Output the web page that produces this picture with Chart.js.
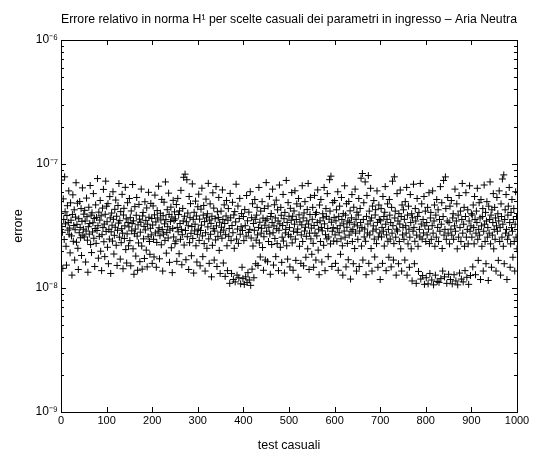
<!DOCTYPE html>
<html lang="it">
<head>
    <meta charset="UTF-8">
    <title>Errore relativo - Aria Neutra</title>
    <style>
        body {
            margin: 0;
            background-color: white;
        }
    </style>
</head>
<body>
    <canvas id="errChart" width="533" height="457"></canvas>

    <script src="https://cdn.jsdelivr.net/npm/chart.js@4.4.1/dist/chart.umd.min.js"></script>
    <script>
        // errore relativo per ogni test, in unita' di 1e-8
        const errore = [
            7.42, 3.13, 2.81, 1.44, 5.23, 3.57, 2.46, 7.88, 4.12, 3.29, 2.17, 1.53, 3.84, 4.61, 2.93, 3.38, 6.07, 2.71, 3.04, 1.92, 4.86, 3.52, 2.63, 1.27, 3.91, 5.64, 2.38, 3.19, 4.27, 1.68, 2.95, 3.73, 7.06, 2.34, 3.26, 4.83, 2.09, 1.41, 3.62, 2.79, 4.98, 3.08, 2.54, 4.37, 1.83, 3.45, 6.42, 2.67, 2.98, 3.94,
            2.58, 4.23, 3.47, 1.62, 2.88, 5.31, 3.76, 2.43, 1.34, 3.12, 4.48, 2.72, 3.31, 6.71, 2.24, 3.87, 1.93, 4.04, 2.83, 3.36, 5.77, 2.52, 3.64, 1.49, 3.02, 4.68, 2.29, 3.71, 2.91, 7.63, 3.18, 1.74, 4.09, 2.61, 3.53, 5.08, 1.98, 3.82, 1.38, 2.69, 4.41, 3.07, 6.24, 2.36, 3.28, 1.79, 3.93, 7.27, 2.86, 4.57,
            3.42, 2.13, 4.79, 1.57, 2.97, 2.48, 5.46, 3.68, 1.31, 2.84, 4.02, 3.21, 2.39, 5.97, 3.58, 1.88, 2.66, 4.31, 3.09, 5.12, 2.21, 3.79, 1.52, 2.92, 4.63, 3.34, 6.96, 2.57, 3.49, 1.71, 4.13, 2.32, 3.01, 5.69, 2.77, 1.43, 3.88, 4.39, 2.51, 3.17, 6.48, 2.04, 3.61, 1.59, 2.73, 4.87, 3.37, 2.19, 3.11, 5.27,
            2.41, 3.69, 1.51, 4.18, 2.89, 3.32, 6.83, 2.07, 3.48, 1.29, 2.74, 4.53, 2.99, 1.81, 3.86, 5.37, 2.62, 1.39, 3.23, 2.31, 4.72, 3.59, 1.63, 2.82, 3.39, 6.28, 2.18, 1.42, 3.81, 4.07, 2.49, 3.14, 1.73, 4.96, 2.94, 3.51, 2.02, 4.42, 1.48, 3.27, 2.59, 5.91, 3.72, 2.37, 1.87, 3.03, 4.81, 2.68, 3.63, 1.58,
            3.22, 4.59, 2.47, 1.78, 3.89, 5.61, 2.78, 3.41, 1.47, 2.33, 4.21, 3.67, 2.87, 6.62, 3.06, 1.72, 2.64, 4.01, 3.54, 2.23, 5.18, 2.96, 1.37, 3.83, 2.72, 4.92, 3.29, 2.42, 7.17, 3.56, 1.91, 2.81, 4.28, 3.12, 2.53, 5.82, 3.92, 1.61, 2.93, 3.43, 4.49, 2.11, 3.74, 1.33, 3.02, 5.09, 2.58, 3.51, 4.11, 2.28,
            3.61, 2.39, 4.71, 1.64, 3.08, 5.28, 2.84, 3.91, 1.89, 4.19, 3.31, 2.47, 6.13, 2.97, 1.54, 2.69, 4.38, 3.47, 7.81, 2.22, 3.79, 8.28, 2.91, 1.69, 3.42, 7.46, 2.59, 4.02, 3.18, 1.41, 5.47, 2.32, 3.69, 4.79, 2.76, 1.82, 3.13, 6.91, 2.51, 3.58, 1.32, 4.08, 2.89, 3.27, 5.02, 2.19, 3.81, 1.62, 2.71, 4.52,
            2.98, 5.71, 2.42, 3.59, 1.51, 2.91, 4.32, 3.21, 6.38, 2.63, 1.79, 3.87, 4.63, 2.28, 3.43, 1.37, 2.79, 5.21, 3.68, 2.09, 3.97, 3.11, 6.98, 2.49, 1.58, 3.53, 4.77, 2.71, 3.32, 1.23, 3.79, 2.21, 5.86, 3.01, 4.41, 1.68, 2.88, 3.62, 2.44, 6.57, 3.17, 1.49, 4.12, 2.61, 3.71, 5.37, 2.01, 3.39, 1.31, 2.82,
            4.17, 3.09, 2.52, 6.18, 3.57, 1.59, 2.93, 4.68, 3.31, 1.24, 2.69, 3.81, 5.08, 2.19, 1.38, 3.52, 4.37, 2.61, 3.02, 1.09, 5.79, 3.68, 2.41, 1.31, 3.19, 4.91, 2.79, 1.17, 3.88, 2.09, 4.13, 1.12, 3.41, 6.87, 2.48, 1.27, 2.99, 4.58, 2.29, 1.21, 3.63, 5.28, 2.71, 1.08, 3.12, 3.98, 1.47, 2.91, 1.19, 3.77,
            2.41, 1.07, 4.29, 3.18, 1.23, 2.62, 5.57, 1.11, 3.48, 1.33, 2.81, 4.09, 1.16, 2.97, 5.98, 1.05, 2.53, 3.69, 1.42, 4.78, 2.18, 3.31, 1.21, 2.92, 5.17, 3.58, 1.57, 2.43, 3.87, 4.47, 2.68, 1.52, 3.08, 6.47, 2.31, 3.39, 1.78, 4.17, 2.77, 3.03, 4.97, 2.12, 3.66, 1.39, 2.59, 4.38, 3.21, 1.68, 3.49, 7.08,
            2.87, 3.61, 1.63, 4.58, 2.37, 3.09, 5.48, 2.73, 1.29, 3.77, 3.99, 2.24, 3.37, 6.27, 2.79, 1.53, 3.17, 4.69, 2.51, 3.67, 1.79, 5.11, 3.01, 2.28, 4.27, 3.47, 1.38, 2.92, 6.77, 3.29, 2.13, 4.47, 3.86, 1.61, 2.57, 3.19, 5.68, 2.39, 3.62, 1.32, 4.07, 2.78, 2.97, 7.37, 2.19, 3.38, 1.71, 4.88, 2.69, 3.79,
            3.07, 1.48, 4.39, 2.59, 3.52, 5.88, 2.31, 3.79, 1.39, 2.87, 4.18, 3.27, 6.08, 2.48, 1.67, 3.57, 4.77, 2.81, 2.99, 1.22, 5.27, 3.89, 2.17, 3.41, 4.57, 1.58, 2.68, 3.23, 6.68, 2.37, 3.67, 1.51, 4.03, 2.88, 4.97, 3.09, 1.77, 2.61, 3.48, 4.29, 2.07, 6.97, 3.28, 1.41, 2.77, 3.91, 5.38, 2.49, 3.04, 1.87,
            3.58, 4.47, 2.29, 1.47, 3.19, 5.58, 2.77, 3.92, 1.68, 4.07, 2.63, 3.38, 6.18, 2.02, 2.98, 1.28, 4.67, 3.48, 2.37, 5.17, 3.08, 1.62, 2.89, 3.97, 3.68, 2.21, 6.47, 3.29, 1.38, 2.69, 4.37, 3.78, 2.49, 5.77, 3.02, 1.79, 2.58, 3.59, 7.47, 4.17, 2.27, 7.98, 3.39, 1.49, 2.87, 4.88, 3.07, 2.39, 3.71, 5.07,
            2.68, 1.58, 3.48, 4.27, 2.38, 3.01, 5.97, 1.39, 3.78, 2.79, 4.57, 3.18, 1.87, 2.49, 5.37, 3.57, 2.19, 1.27, 3.98, 3.29, 2.88, 6.67, 2.57, 3.87, 1.48, 4.78, 3.09, 2.29, 3.47, 1.69, 4.98, 2.67, 3.38, 4.19, 1.18, 2.87, 3.68, 5.67, 2.37, 2.97, 1.57, 4.48, 3.27, 2.08, 6.27, 2.77, 3.58, 1.37, 4.08, 3.17,
            2.47, 3.88, 5.27, 1.49, 2.88, 4.38, 3.37, 7.68, 2.18, 3.07, 8.38, 1.68, 3.57, 4.87, 2.58, 2.99, 7.17, 2.38, 1.28, 3.78, 5.58, 2.78, 3.28, 8.07, 1.58, 4.17, 2.68, 3.48, 6.37, 2.08, 3.67, 1.37, 4.58, 2.88, 3.17, 5.07, 2.48, 1.78, 3.88, 4.28, 2.98, 2.28, 6.07, 3.38, 1.47, 2.58, 4.67, 3.57, 2.78, 1.17,
            3.48, 4.37, 2.58, 3.08, 1.58, 5.47, 2.87, 3.77, 2.18, 4.08, 6.57, 3.27, 1.38, 2.68, 3.58, 4.77, 2.38, 2.97, 1.77, 5.17, 3.87, 2.48, 3.37, 1.48, 4.47, 2.77, 7.27, 3.18, 1.68, 2.28, 7.88, 3.67, 4.17, 2.57, 1.27, 2.98, 5.77, 2.88, 3.47, 1.57, 3.98, 2.37, 3.28, 6.17, 2.07, 3.77, 1.37, 4.67, 2.68, 3.08,
            4.27, 2.47, 3.58, 1.68, 4.97, 3.18, 2.77, 6.47, 1.27, 3.87, 2.27, 4.57, 2.98, 1.47, 2.57, 5.67, 3.37, 2.07, 3.97, 1.14, 3.68, 2.87, 6.87, 3.08, 1.57, 2.38, 4.37, 3.47, 1.09, 2.67, 5.27, 3.78, 2.17, 1.36, 4.07, 2.97, 2.58, 6.97, 1.18, 3.28, 4.77, 2.48, 1.26, 3.57, 2.78, 5.47, 1.07, 3.17, 4.17, 2.37,
            1.21, 3.37, 2.68, 4.47, 1.08, 2.98, 5.87, 2.28, 1.31, 3.67, 4.07, 2.47, 1.16, 3.18, 6.07, 2.77, 1.06, 3.47, 4.67, 2.17, 1.27, 3.87, 2.57, 5.17, 1.13, 3.08, 4.27, 2.37, 1.11, 3.57, 2.87, 6.57, 1.19, 3.27, 4.87, 2.08, 1.37, 3.77, 7.37, 2.67, 1.23, 2.97, 7.87, 4.37, 2.47, 1.09, 3.47, 5.37, 2.77, 1.29,
            3.37, 2.27, 4.57, 1.17, 2.98, 5.07, 2.67, 1.08, 3.67, 3.97, 2.47, 1.28, 3.17, 6.27, 2.87, 1.14, 3.47, 4.77, 2.07, 1.06, 3.87, 2.57, 5.57, 1.32, 3.07, 4.17, 2.37, 1.18, 3.57, 6.97, 2.77, 1.12, 3.27, 4.47, 2.17, 1.38, 3.77, 5.87, 2.57, 1.22, 2.97, 4.27, 2.27, 1.07, 3.47, 6.67, 2.87, 1.26, 3.17, 3.97,
            2.57, 3.87, 1.48, 4.67, 3.07, 2.27, 5.47, 3.57, 1.28, 2.77, 4.17, 3.37, 6.37, 2.47, 1.67, 2.97, 4.87, 2.67, 3.67, 1.17, 5.17, 3.17, 2.17, 3.77, 4.37, 1.37, 2.87, 6.77, 3.27, 2.37, 4.07, 1.57, 3.47, 4.97, 2.57, 3.07, 1.15, 4.57, 2.77, 3.57, 7.17, 2.27, 3.87, 1.47, 4.27, 2.67, 3.37, 5.77, 2.07, 2.97,
            4.47, 2.47, 3.67, 1.37, 3.17, 5.37, 2.87, 3.97, 1.67, 3.47, 6.07, 2.37, 3.07, 1.27, 4.77, 3.77, 2.57, 7.57, 3.27, 2.17, 8.17, 1.57, 3.57, 4.27, 2.77, 5.67, 2.97, 1.17, 2.47, 3.87, 4.57, 2.67, 6.47, 3.37, 1.47, 2.27, 4.07, 3.07, 5.17, 2.87, 1.77, 3.57, 4.37, 2.37, 1.37, 3.27, 5.97, 2.57, 3.77, 2.07
        ];
        const scala = 1e-8;

        const xTicks = [0, 100, 200, 300, 400, 500, 600, 700, 800, 900, 1000];
        const yDecadi = [-9, -8, -7, -6];

        const sup = { '-': '\u207B', '0': '\u2070', '1': '\u00B9', '2': '\u00B2', '3': '\u00B3', '4': '\u2074',
                      '5': '\u2075', '6': '\u2076', '7': '\u2077', '8': '\u2078', '9': '\u2079' };
        const potenza = (e) => '10' + String(e).split('').map(c => sup[c]).join('');

        // tacche log: decadi + 2..9 dentro ogni decade
        let yTacche = [];
        yDecadi.forEach((d, i) => {
            yTacche.push(10 ** d);
            if (i < yDecadi.length - 1) {
                for (let m = 2; m <= 9; m++) yTacche.push(m * 10 ** d);
            }
        });

        const punti = errore.map((v, i) => ({ x: i + 1, y: v * scala }));

        // cornice e tacche verso l'interno, stile matlab
        const cornice = {
            id: 'cornice',
            afterDraw(chart) {
                const { ctx, chartArea: a, scales: { x, y } } = chart;
                ctx.save();
                ctx.strokeStyle = '#000';
                ctx.lineWidth = 1;
                ctx.beginPath();
                xTicks.forEach(v => {
                    const px = Math.round(x.getPixelForValue(v)) + 0.5;
                    ctx.moveTo(px, a.bottom); ctx.lineTo(px, a.bottom - 5);
                    ctx.moveTo(px, a.top); ctx.lineTo(px, a.top + 5);
                });
                yTacche.forEach(v => {
                    const py = Math.round(y.getPixelForValue(v)) + 0.5;
                    const major = Number.isInteger(Math.round(Math.log10(v) * 1000) / 1000);
                    const len = major ? 5 : 3;
                    ctx.moveTo(a.left, py); ctx.lineTo(a.left + len, py);
                    ctx.moveTo(a.right, py); ctx.lineTo(a.right - len, py);
                });
                ctx.stroke();
                ctx.strokeRect(Math.round(a.left) + 0.5, Math.round(a.top) + 0.5,
                    Math.round(a.right) - Math.round(a.left), Math.round(a.bottom) - Math.round(a.top));
                ctx.restore();
            }
        };

        Chart.defaults.font.family = '"Liberation Sans", Arial, sans-serif';
        Chart.defaults.font.size = 11;
        Chart.defaults.color = '#000';

        new Chart(document.getElementById('errChart'), {
            type: 'scatter',
            data: {
                datasets: [{
                    label: 'errore',
                    data: punti,
                    pointStyle: 'cross',
                    pointRadius: 3.5,
                    pointBorderWidth: 1,
                    borderColor: '#000',
                    backgroundColor: '#000',
                }]
            },
            options: {
                responsive: false,
                animation: false,
                layout: { padding: { left: 0, right: 16, top: 0, bottom: 0 } },
                plugins: {
                    legend: { display: false },
                    tooltip: { enabled: false },
                    title: {
                        display: true,
                        fullSize: false,
                        text: 'Errore relativo in norma H\u00B9 per scelte casuali dei parametri in ingresso \u2013 Aria Neutra',
                        font: { size: 12.5, weight: 'normal' },
                        padding: { top: 12, bottom: 13 },
                    }
                },
                scales: {
                    x: {
                        type: 'linear',
                        min: 0,
                        max: 1000,
                        afterBuildTicks: (s) => { s.ticks = xTicks.map(v => ({ value: v })); },
                        ticks: { padding: 2, maxRotation: 0, autoSkip: false, callback: (v) => String(v) },
                        grid: { display: false, drawTicks: false },
                        border: { display: false },
                        title: { display: true, text: 'test casuali', font: { size: 12.5 }, padding: { top: 0, bottom: 4 } },
                        afterFit: (s) => { s.height = 45; },
                    },
                    y: {
                        type: 'logarithmic',
                        min: 1e-9,
                        max: 1e-6,
                        afterBuildTicks: (s) => { s.ticks = yTacche.map(v => ({ value: v })); },
                        ticks: {
                            padding: 3,
                            autoSkip: false,
                            font: { size: 12 },
                            callback: (v) => {
                                const e = Math.log10(v);
                                return Math.abs(e - Math.round(e)) < 1e-6 ? potenza(Math.round(e)) : '';
                            }
                        },
                        grid: { display: false, drawTicks: false },
                        border: { display: false },
                        title: { display: true, text: 'errore', font: { size: 12.5 }, padding: { top: 11, bottom: 0 } },
                        afterFit: (s) => { s.width = 61; },
                    }
                }
            },
            plugins: [cornice]
        });
    </script>
</body>
</html>
